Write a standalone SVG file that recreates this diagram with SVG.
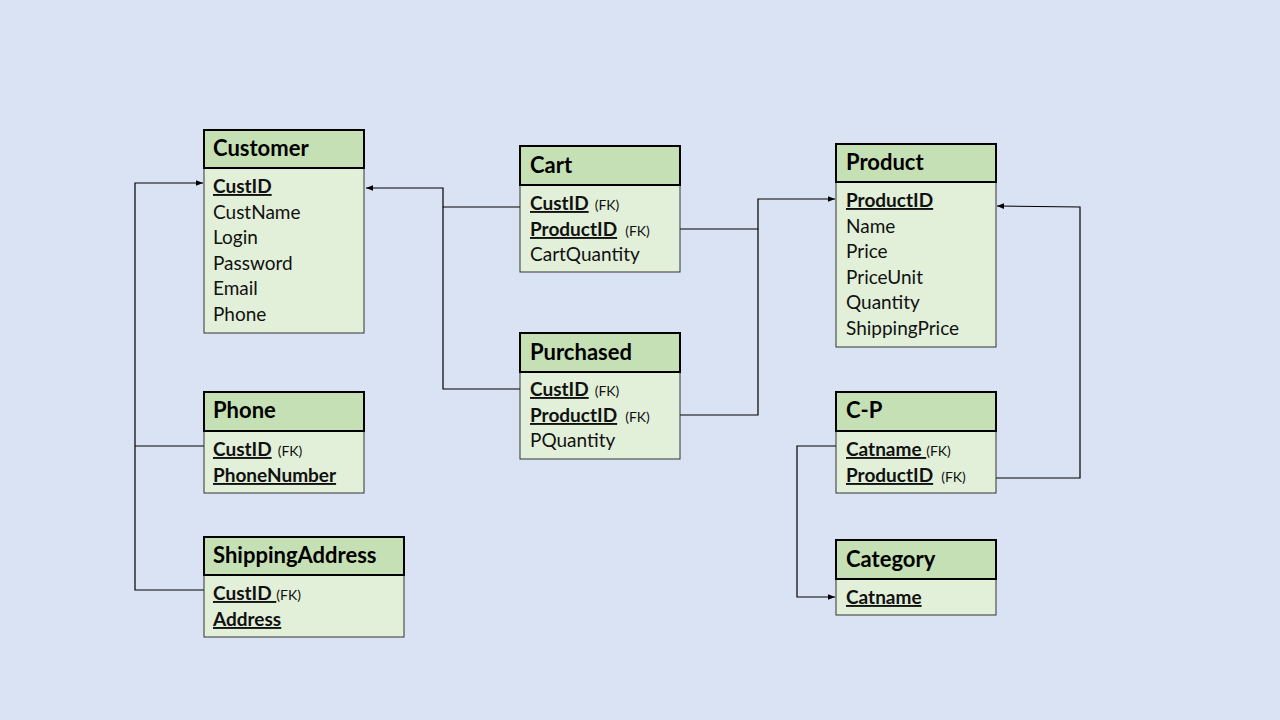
<svg xmlns="http://www.w3.org/2000/svg" width="1280" height="720" viewBox="0 0 1280 720">
<defs>
<style>
.hd{fill:#C5E0B4;stroke:#000;stroke-width:2}
.bd{fill:#E2F0D9;stroke:#333;stroke-width:1}
.t{font-family:Lato,"Open Sans","Liberation Sans",sans-serif;font-size:22px;font-weight:bold;fill:#000}
.f{font-family:Lato,"Open Sans","Liberation Sans",sans-serif;font-size:19px;fill:#111}
.k{font-weight:bold;text-decoration:underline}
.fk{font-size:14px;font-weight:normal;text-decoration:none}
.c{fill:none;stroke:#000;stroke-width:1.2}
</style>
<marker id="ar" viewBox="0 0 10 10" refX="10" refY="5" markerWidth="7" markerHeight="7" orient="auto" markerUnits="userSpaceOnUse">
<path d="M0,1 L10,5 L0,9 z" fill="#000"/>
</marker>
</defs>
<rect width="1280" height="720" fill="#DAE3F3"/>
<g id="connectors">
<polyline class="c" points="204,590 135,590 135,183 203,183" marker-end="url(#ar)"/>
<line class="c" x1="135" y1="446" x2="204" y2="446"/>
<polyline class="c" points="520,207 443,207 443,188 366,188" marker-end="url(#ar)"/>
<polyline class="c" points="520,389 443,389 443,207"/>
<polyline class="c" points="680,229 758,229 758,199 835,199" marker-end="url(#ar)"/>
<polyline class="c" points="680,415 758,415 758,229"/>
<polyline class="c" points="996,478 1080,478 1080,207 997,206" marker-end="url(#ar)"/>
<polyline class="c" points="836,446 797,446 797,597 835,597" marker-end="url(#ar)"/>
</g>
<g id="customer">
<rect class="bd" x="204" y="168" width="160" height="165"/>
<rect class="hd" x="204" y="130" width="160" height="38"/>
<text class="t" x="213" y="156">Customer</text>
<text class="f" x="213" y="193"><tspan class="k">CustID</tspan></text>
<text class="f" x="213" y="219">CustName</text>
<text class="f" x="213" y="244">Login</text>
<text class="f" x="213" y="270">Password</text>
<text class="f" x="213" y="295">Email</text>
<text class="f" x="213" y="321">Phone</text>
</g>
<g id="cart">
<rect class="bd" x="520" y="185" width="160" height="87"/>
<rect class="hd" x="520" y="146" width="160" height="39"/>
<text class="t" x="530" y="173">Cart</text>
<text class="f" x="530" y="210"><tspan class="k">CustID</tspan><tspan class="fk" dx="6">(FK)</tspan></text>
<text class="f" x="530" y="236"><tspan class="k">ProductID</tspan><tspan class="fk" dx="8">(FK)</tspan></text>
<text class="f" x="530" y="261">CartQuantity</text>
</g>
<g id="purchased">
<rect class="bd" x="520" y="372" width="160" height="87"/>
<rect class="hd" x="520" y="333" width="160" height="39"/>
<text class="t" x="530" y="360">Purchased</text>
<text class="f" x="530" y="396"><tspan class="k">CustID</tspan><tspan class="fk" dx="6">(FK)</tspan></text>
<text class="f" x="530" y="422"><tspan class="k">ProductID</tspan><tspan class="fk" dx="8">(FK)</tspan></text>
<text class="f" x="530" y="447">PQuantity</text>
</g>
<g id="product">
<rect class="bd" x="836" y="182" width="160" height="165"/>
<rect class="hd" x="836" y="144" width="160" height="38"/>
<text class="t" x="846" y="170">Product</text>
<text class="f" x="846" y="207"><tspan class="k">ProductID</tspan></text>
<text class="f" x="846" y="233">Name</text>
<text class="f" x="846" y="258">Price</text>
<text class="f" x="846" y="284">PriceUnit</text>
<text class="f" x="846" y="309">Quantity</text>
<text class="f" x="846" y="335">ShippingPrice</text>
</g>
<g id="cp">
<rect class="bd" x="836" y="431" width="160" height="62"/>
<rect class="hd" x="836" y="392" width="160" height="39"/>
<text class="t" x="846" y="418">C-P</text>
<text class="f" x="846" y="456"><tspan class="k">Catname </tspan><tspan class="fk">(FK)</tspan></text>
<text class="f" x="846" y="482"><tspan class="k">ProductID</tspan><tspan class="fk" dx="8">(FK)</tspan></text>
</g>
<g id="category">
<rect class="bd" x="836" y="579" width="160" height="36"/>
<rect class="hd" x="836" y="540" width="160" height="39"/>
<text class="t" x="846" y="567">Category</text>
<text class="f" x="846" y="604"><tspan class="k">Catname</tspan></text>
</g>
<g id="phone">
<rect class="bd" x="204" y="431" width="160" height="62"/>
<rect class="hd" x="204" y="392" width="160" height="39"/>
<text class="t" x="213" y="418">Phone</text>
<text class="f" x="213" y="456"><tspan class="k">CustID</tspan><tspan class="fk" dx="6">(FK)</tspan></text>
<text class="f" x="213" y="482"><tspan class="k">PhoneNumber</tspan></text>
</g>
<g id="shippingaddress">
<rect class="bd" x="204" y="575" width="200" height="62"/>
<rect class="hd" x="204" y="537" width="200" height="38"/>
<text class="t" x="213" y="563">ShippingAddress</text>
<text class="f" x="213" y="600"><tspan class="k">CustID </tspan><tspan class="fk">(FK)</tspan></text>
<text class="f" x="213" y="626"><tspan class="k">Address</tspan></text>
</g>
</svg>
